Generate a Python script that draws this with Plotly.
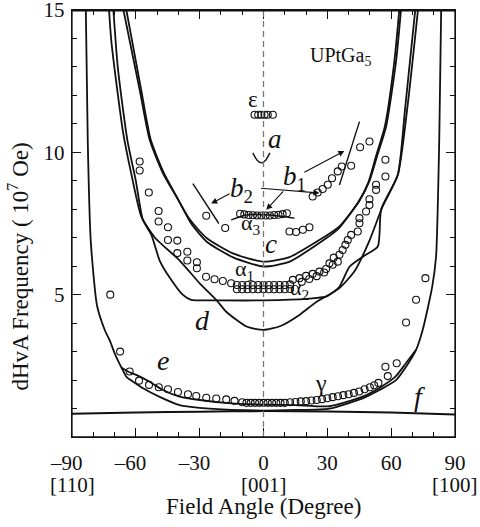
import plotly.graph_objects as go

# ---------------- data ----------------
# curve f (flat bottom curve)
f_x = [-90, -60, -30, 0, 30, 60, 90]
f_y = [0.82, 0.86, 0.89, 0.91, 0.90, 0.86, 0.79]

# outer U curve (e branch, outer)
eo_x = [-83.6, -82.6, -81.2, -78.2, -74.6, -72.3, -70.0, -66.7, -64.3, -60.0, -56.8, -48.8, -39.4,
        -30.0, -15.0, 0.0, 15.0, 31.0, 46.6, 54.5, 62.3, 67.0, 71.7, 74.8, 79.3, 81.1, 82.6, 83.6]
eo_y = [15.5, 10.4, 6.9, 4.6, 3.76, 3.4, 2.95, 2.43, 2.1, 1.88, 1.72, 1.41, 1.12,
        1.02, 0.95, 0.93, 0.95, 1.0, 1.36, 1.65, 2.0, 2.47, 3.06, 3.76, 5.28, 6.34, 10.44, 15.5]

# inner e curve
ei_x = [-66.7, -63.7, -59.8, -53.5, -47.3, -39.4, -30.0, -15.0, 0.0, 15.0, 31.0, 46.6, 55.0, 62.0, 67.0, 71.7]
ei_y = [2.43, 2.3, 2.18, 1.94, 1.65, 1.42, 1.3, 1.18, 1.14, 1.12, 1.08, 1.42, 1.75, 2.12, 2.6, 3.06]

# c curves (pair)
c1_x = [-67.2, -58.2, -53.5, -47.3, -41.0, -34.7, -26.9, -14.4, 0.0, 12.2, 24.7, 35.7, 45.1, 49.8, 53.5, 57.6, 62.3, 65.2]
c1_y = [15.5, 12.2, 10.44, 9.27, 8.45, 7.65, 7.0, 6.45, 6.16, 6.32, 6.85, 7.4, 8.3, 9.0, 9.9, 10.9, 13.2, 15.5]
c2_x = [-65.7, -57.5, -53.0, -46.8, -40.5, -34.0, -26.5, -14.0, 0.0, 12.0, 24.0, 35.0, 44.5, 49.3, 53.0, 57.0, 61.5, 64.4]
c2_y = [15.5, 12.2, 10.44, 9.27, 8.4, 7.5, 6.85, 6.3, 5.99, 6.15, 6.7, 7.3, 8.25, 8.95, 9.9, 10.9, 13.2, 15.5]

# d curves (V-shaped and flat-bottomed)
dv_x = [-73.0, -71.5, -66.0, -62.0, -57.4, -51.0, -39.4, -30.0, -22.0, -17.5, -8.0, 0.0, 8.0, 16.9,
        25.0, 35.7, 43.0, 49.8, 56.0, 63.1, 66.5, 72.0]
dv_y = [15.5, 13.9, 10.7, 9.2, 7.74, 7.0, 6.2, 5.4, 4.8, 4.4, 3.88, 3.76, 3.9, 4.29,
        4.75, 5.23, 5.85, 6.9, 8.1, 9.2, 11.5, 15.5]
dflat_x = [-71.0, -68.5, -64.0, -60.0, -56.7, -52.7, -48.8, -44.1, -38.0, -34.0, -20.0, 0.0, 20.0,
           30.0, 35.7, 40.4, 47.0, 53.7, 55.3, 63.1, 67.5, 73.3]
dflat_y = [15.5, 13.0, 10.44, 9.0, 7.63, 7.1, 6.2, 5.6, 5.0, 4.82, 4.8, 4.8, 4.85,
           4.95, 5.28, 5.98, 6.35, 6.69, 8.0, 9.2, 11.5, 15.5]

# short segments
a_x = [-5.0, -3.0, -1.0, 1.0, 3.0]
a_y = [9.98, 9.72, 9.63, 9.72, 9.98]
b1_line_x = [35.7, 45.1]
b1_line_y = [8.85, 11.08]
b2_line_x = [-33.2, -21.0]
b2_line_y = [8.9, 7.5]
a3_line_x = [-15.2, -8.1, 2.8, 14.6]
a3_line_y = [7.63, 7.8, 7.8, 7.69]

# measured points
gam_x = [-72.0, -67.4, -62.9, -58.5, -53.8, -49.2, -44.9, -40.2, -35.5, -31.6, -26.9, -22.2, -17.5, -13.6,
         -10.0, -8.0, -6.0, -4.0, -2.0, 0.0, 2.0, 4.0, 6.0, 8.0, 10.0, 12.5, 15.0, 17.5, 20.0, 22.5,
         25.0, 27.5, 30.0, 32.5, 35.0, 37.5, 40.0, 42.5, 45.0, 47.5, 50.0, 52.0, 54.0,
         57.3, 58.4, 62.6, 67.0, 71.7, 76.1]
gam_y = [5.0, 3.0, 2.3, 1.98, 1.83, 1.75, 1.68, 1.58, 1.5, 1.44, 1.38, 1.35, 1.32, 1.27,
         1.22, 1.2, 1.2, 1.2, 1.2, 1.2, 1.2, 1.2, 1.2, 1.2, 1.2, 1.22, 1.23, 1.25, 1.26, 1.28,
         1.3, 1.33, 1.36, 1.4, 1.43, 1.47, 1.5, 1.55, 1.6, 1.68, 1.75, 1.82, 1.9,
         2.47, 2.14, 2.59, 4.02, 4.82, 5.58]

alpha_x = [-58.2, -58.2, -53.9, -49.3, -49.3, -44.9, -44.9, -40.5, -40.5, -35.8, -35.8, -31.3, -31.3,
           -27.0, -23.0, -19.1, -15.2,
           -12.5, -10.0, -7.5, -5.0, -2.5, 0.0, 2.5, 5.0, 7.5, 10.0, 12.5,
           -12.5, -10.0, -7.5, -5.0, -2.5, 0.0, 2.5, 5.0, 7.5, 10.0, 12.5,
           13.8, 16.9, 20.0, 23.1, 26.3, 29.4, 31.0, 32.5, 34.9, 35.7, 37.2, 39.6, 41.2, 44.3,
           45.1, 45.1, 48.2, 49.8, 49.8, 52.9, 52.9, 57.3, 57.3,
           18.0, 21.5, 25.0, 28.5, 33.0, 38.5]
alpha_y = [9.68, 9.36, 8.59, 7.94, 7.57, 7.37, 6.92, 6.9, 6.46, 6.51, 6.2, 6.14, 5.93,
           5.63, 5.54, 5.48, 5.4,
           5.34, 5.34, 5.34, 5.34, 5.34, 5.34, 5.34, 5.34, 5.34, 5.34, 5.36,
           5.19, 5.19, 5.19, 5.19, 5.19, 5.19, 5.19, 5.19, 5.19, 5.19, 5.2,
           5.52, 5.58, 5.66, 5.73, 5.81, 5.9, 6.1, 6.05, 6.16, 6.4, 6.57, 6.92, 7.1, 7.22,
           7.51, 7.69, 7.92, 8.15, 8.35, 8.68, 8.86, 9.15, 9.74,
           5.45, 5.55, 5.65, 5.78, 6.3, 6.75]

b1_x = [23.1, 25.5, 27.8, 30.2, 32.2, 34.9, 36.8, 41.2, 45.4, 49.8]
b1_y = [8.45, 8.59, 8.71, 8.86, 9.09, 9.33, 9.5, 9.53, 10.18, 10.38]
b2_x = [-26.9, -18.0]
b2_y = [7.77, 7.34]
a3_x = [-11.0, -9.0, -7.0, -5.0, -3.0, -1.0, 1.0, 3.0, 5.0, 7.0, 9.0, 11.0,
        12.2, 15.3, 18.5, 21.6]
a3_y = [7.84, 7.82, 7.8, 7.79, 7.78, 7.78, 7.78, 7.78, 7.8, 7.81, 7.83, 7.86,
        7.22, 7.2, 7.28, 7.37]
eps_x = [-4.2, -2.5, -1.0, 0.5, 2.0, 4.4]
eps_y = [11.32, 11.32, 11.32, 11.32, 11.32, 11.32]

x_tickvals = [-90, -60, -30, 0, 30, 60, 90]
x_ticktext = ["–90\u2002", "–60\u2002", "–30\u2002", "0", "30", "60", "90"]
x_dir_vals = [-90, 0, 90]
x_dir_text = ["[110]", "[001]", "[100]"]
y_tickvals = [5, 10, 15]
y_ticktext = ["5", "10", "15"]

# ---------------- figure ----------------
FONT = "Times New Roman, Liberation Serif, DejaVu Serif, serif"
INK = "#111111"
fig = go.Figure()

# dashed vertical line at 0
fig.add_shape(type="line", x0=0, x1=0, y0=0, y1=15, xref="x", yref="y",
              line=dict(color="#777777", width=1.3, dash="6px,4px"))
# frame (top edge drawn explicitly as well)
fig.add_shape(type="rect", x0=0, x1=1, y0=0, y1=1, xref="paper", yref="paper",
              line=dict(color=INK, width=1.3), layer="above")
fig.add_shape(type="line", x0=0, x1=1, y0=0.998, y1=0.998, xref="paper", yref="paper",
              line=dict(color=INK, width=1.5), layer="above")

def add_line(x, y, w=1.8, smooth=True):
    fig.add_trace(go.Scatter(x=x, y=y, mode="lines",
                             line=dict(color=INK, width=w,
                                       shape="spline" if smooth else "linear",
                                       smoothing=0.6),
                             showlegend=False, hoverinfo="skip"))

add_line(f_x, f_y, 2.0)
add_line(eo_x, eo_y)
add_line(ei_x, ei_y)
add_line(c1_x, c1_y)
add_line(c2_x, c2_y)
add_line(dv_x, dv_y)
add_line(dflat_x, dflat_y)
add_line(a_x, a_y, 1.4)
add_line(b1_line_x, b1_line_y, 1.4, False)
add_line(b2_line_x, b2_line_y, 1.4, False)
add_line(a3_line_x, a3_line_y, 1.4)

def add_pts(x, y):
    fig.add_trace(go.Scatter(x=x, y=y, mode="markers",
                             marker=dict(symbol="circle-open", size=7,
                                         color=INK, line=dict(width=1.1)),
                             showlegend=False, hoverinfo="skip"))

for px_, py_ in [(gam_x, gam_y), (alpha_x, alpha_y), (b1_x, b1_y),
                 (b2_x, b2_y), (a3_x, a3_y), (eps_x, eps_y)]:
    add_pts(px_, py_)

# invisible trace on the mirrored (top/right) axes so their ticks are drawn
fig.add_trace(go.Scatter(x=[-90, 90], y=[0, 15], xaxis="x2", yaxis="y2", mode="markers",
                         marker=dict(opacity=0), showlegend=False, hoverinfo="skip"))

# text labels: (text, x, y, size, yshift)
labels = [
    ("ε", -5.0, 11.74, 23, 3),
    ("<i>a</i>", 5.5, 10.33, 27, 4),
    ("<i>b</i><sub>2</sub>", -10.5, 8.68, 27, 0),
    ("<i>b</i><sub>1</sub>", 14.6, 9.1, 27, 0),
    ("α<sub>3</sub>", -5.8, 7.42, 22, 2),
    ("<i>c</i>", 3.6, 6.63, 27, 4),
    ("α<sub>1</sub>", -8.9, 5.81, 22, 2),
    ("α<sub>2</sub>", 17.0, 5.12, 22, 2),
    ("<i>d</i>", -28.5, 4.11, 28, 0),
    ("<i>e</i>", -47.3, 2.53, 28, 4),
    ("γ", 27.1, 1.89, 24, 0),
    ("<i>f</i>", 73.2, 1.42, 28, 0),
    ("UPtGa<sub>5</sub>", 36.0, 13.36, 20, 0),
]
for txt, x, y, s, ys in labels:
    fig.add_annotation(x=x, y=y, text=txt, showarrow=False, yshift=ys,
                       font=dict(family=FONT, size=s, color=INK))

# crystal directions below tick labels
for v, t in zip(x_dir_vals, x_dir_text):
    fig.add_annotation(x=v, y=-0.112, xref="x", yref="paper", text=t, showarrow=False,
                       yanchor="middle", font=dict(family=FONT, size=21, color=INK))

# axis titles
fig.add_annotation(x=0.5, y=-0.162, xref="paper", yref="paper", text="Field Angle (Degree)",
                   showarrow=False, xanchor="center", yanchor="middle",
                   font=dict(family=FONT, size=23, color=INK))
fig.add_annotation(x=-0.14, y=6.0, xref="paper", yref="y", textangle=-90,
                   text="dHvA Frequency ( 10<sup>7</sup> Oe)", showarrow=False,
                   xanchor="center", yanchor="middle",
                   font=dict(family=FONT, size=23, color=INK))

# arrows (head at x,y; tail at ax,ay)
arrows = [
    (-24.6, 8.2, -15.2, 8.57),
    (38.0, 10.05, 18.5, 9.27),
    (1.3, 7.98, 9.9, 8.68),
    (26.3, 8.57, -1.9, 8.74),
]
for hx, hy, tx, ty in arrows:
    fig.add_annotation(x=hx, y=hy, ax=tx, ay=ty, xref="x", yref="y",
                       axref="x", ayref="y", text="", showarrow=True,
                       arrowhead=2, arrowsize=1.1, arrowwidth=1.1,
                       arrowcolor=INK)

tick_common = dict(showgrid=False, zeroline=False, automargin=False,
                   ticks="inside", ticklen=9, tickwidth=1.3, tickcolor=INK,
                   showline=True, linecolor=INK, linewidth=1.3)

fig.update_layout(
    width=480, height=527,
    margin=dict(l=72, r=25, t=10, b=90, autoexpand=False),
    paper_bgcolor="white", plot_bgcolor="white",
    font=dict(family=FONT, size=21, color=INK),
    showlegend=False,
    xaxis=dict(range=[-90, 90], tickvals=x_tickvals, ticktext=x_ticktext,
               ticklabeloverflow="allow", ticklabelstandoff=6,
               minor=dict(dtick=10, tick0=0, ticks="inside", ticklen=5, tickwidth=1, tickcolor=INK),
               tickfont=dict(family=FONT, size=21), **tick_common),
    yaxis=dict(range=[0, 15], tickvals=y_tickvals, ticktext=y_ticktext,
               ticklabeloverflow="allow", ticklabelstandoff=2,
               minor=dict(dtick=1, tick0=0, ticks="inside", ticklen=5, tickwidth=1, tickcolor=INK),
               tickfont=dict(family=FONT, size=21), **tick_common),
    xaxis2=dict(range=[-90, 90], overlaying="x", side="top", tickvals=x_tickvals,
                showticklabels=False,
                minor=dict(dtick=10, tick0=0, ticks="inside", ticklen=5, tickwidth=1, tickcolor=INK),
                **tick_common),
    yaxis2=dict(range=[0, 15], overlaying="y", side="right", tickvals=y_tickvals,
                showticklabels=False,
                minor=dict(dtick=1, tick0=0, ticks="inside", ticklen=5, tickwidth=1, tickcolor=INK),
                **tick_common),
)

fig.write_html("out.html", config={"displayModeBar": False, "staticPlot": True},
               post_script="document.body.style.margin='0';document.body.style.overflow='hidden';")
